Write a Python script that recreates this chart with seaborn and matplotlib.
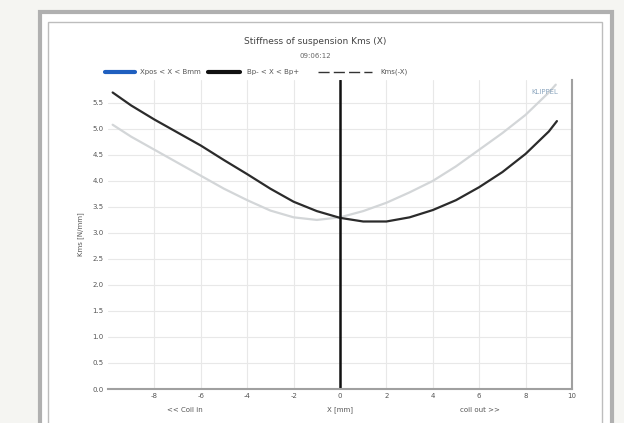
import matplotlib
matplotlib.use("Agg")
import matplotlib.pyplot as plt
import seaborn as sns
import pandas as pd
from matplotlib.patches import Rectangle

# Data
x_dark = [-9.8, -9, -8, -7, -6, -5, -4, -3, -2, -1, 0, 1, 2, 3, 4, 5, 6, 7, 8, 9, 9.35]
kms_dark = [5.7, 5.45, 5.18, 4.93, 4.68, 4.4, 4.13, 3.85, 3.6, 3.42, 3.29, 3.22, 3.22, 3.3,
            3.44, 3.63, 3.88, 4.17, 4.52, 4.95, 5.15]
x_light = [-9.8, -9, -8, -7, -6, -5, -4, -3, -2, -1, 0, 1, 2, 3, 4, 5, 6, 7, 8, 9, 9.3]
kms_light = [5.08, 4.85, 4.6, 4.35, 4.1, 3.85, 3.63, 3.43, 3.3, 3.25, 3.3, 3.42, 3.58, 3.78,
             4.0, 4.28, 4.6, 4.92, 5.27, 5.7, 5.85]
x_ticks = [-8, -6, -4, -2, 0, 2, 4, 6, 8, 10]
y_ticks = [0.0, 0.5, 1.0, 1.5, 2.0, 2.5, 3.0, 3.5, 4.0, 4.5, 5.0, 5.5]
legend_labels = ["Xpos < X < Bmm", "Bp- < X < Bp+", "Kms(-X)"]

df_dark = pd.DataFrame({"x": x_dark, "k": kms_dark})
df_light = pd.DataFrame({"x": x_light, "k": kms_light})

sns.set_theme(style="white")
plt.rcParams["font.family"] = ["DejaVu Sans"]

fig = plt.figure(figsize=(6.24, 4.23), dpi=100)
fig.patch.set_facecolor("#f5f5f2")

# paper frame
fig.add_artist(Rectangle((40/624, -0.02), 572/624, 1.0 - 12/423 + 0.02, transform=fig.transFigure,
                         facecolor="white", edgecolor="#b0b0b0", lw=3, zorder=-2))
fig.add_artist(Rectangle((48/624, -0.02), 554/624, 1.0 - 22/423 + 0.02, transform=fig.transFigure,
                         facecolor="none", edgecolor="#bdbdbd", lw=1, zorder=-1))

ax = fig.add_axes([108/624, 34/423, 464/624, 309/423])
ax.set_facecolor("white")

sns.lineplot(data=df_light, x="x", y="k", ax=ax, color="#d3d6d8", lw=1.6, sort=False)
sns.lineplot(data=df_dark, x="x", y="k", ax=ax, color="#2b2b2b", lw=1.6, sort=False)
ax.axvline(0, color="#111111", lw=1.8)

ax.set_xlim(-10, 10)
ax.set_ylim(0, 5.94)
ax.set_xticks(x_ticks)
ax.set_yticks(y_ticks)
ax.set_xticklabels([str(t) for t in x_ticks], fontsize=5, color="#555555")
ax.set_yticklabels([f"{t:.1f}" for t in y_ticks], fontsize=5, color="#555555")
ax.tick_params(axis="both", length=0, pad=3)
ax.grid(True, color="#e8e8e8", lw=0.8)
for s in ["top", "left"]:
    ax.spines[s].set_visible(False)
ax.spines["right"].set_color("#a0a0a0")
ax.spines["right"].set_linewidth(1.5)
ax.spines["bottom"].set_color("#a0a0a0")
ax.spines["bottom"].set_linewidth(1.5)

ax.set_xlabel("")
ax.set_ylabel("Kms [N/mm]", fontsize=5, color="#555555", labelpad=6)

ax.text(0.97, 0.97, "KLIPPEL", transform=ax.transAxes, ha="right", va="top",
        fontsize=5, color="#8fa8c0")

# x-axis captions
fig.text(185/624, 1 - 410/423, "<< Coil in", fontsize=5, color="#555555", ha="center", va="center")
fig.text(340/624, 1 - 410/423, "X [mm]", fontsize=5, color="#555555", ha="center", va="center")
fig.text(480/624, 1 - 410/423, "coil out >>", fontsize=5, color="#555555", ha="center", va="center")

# title
fig.text(315/624, 1 - 42/423, "Stiffness of suspension Kms (X)", fontsize=6.5, color="#444444",
         ha="center", va="center")
fig.text(315/624, 1 - 56/423, "09:06:12", fontsize=5, color="#666666", ha="center", va="center")

# legend
ly = 1 - 72/423
fig.add_artist(plt.Line2D([105/624, 135/624], [ly, ly], transform=fig.transFigure, color="#1f5fbf", lw=3))
fig.text(140/624, ly, legend_labels[0], fontsize=5, color="#555555", ha="left", va="center")
fig.add_artist(plt.Line2D([208/624, 240/624], [ly, ly], transform=fig.transFigure, color="#111111", lw=3))
fig.text(247/624, ly, legend_labels[1], fontsize=5, color="#555555", ha="left", va="center")
fig.add_artist(plt.Line2D([318/624, 372/624], [ly, ly], transform=fig.transFigure, color="#333333",
                          lw=1, ls=(0, (8, 3))))
fig.text(380/624, ly, legend_labels[2], fontsize=5, color="#555555", ha="left", va="center")

fig.savefig("out.png", dpi=100, facecolor=fig.get_facecolor())
